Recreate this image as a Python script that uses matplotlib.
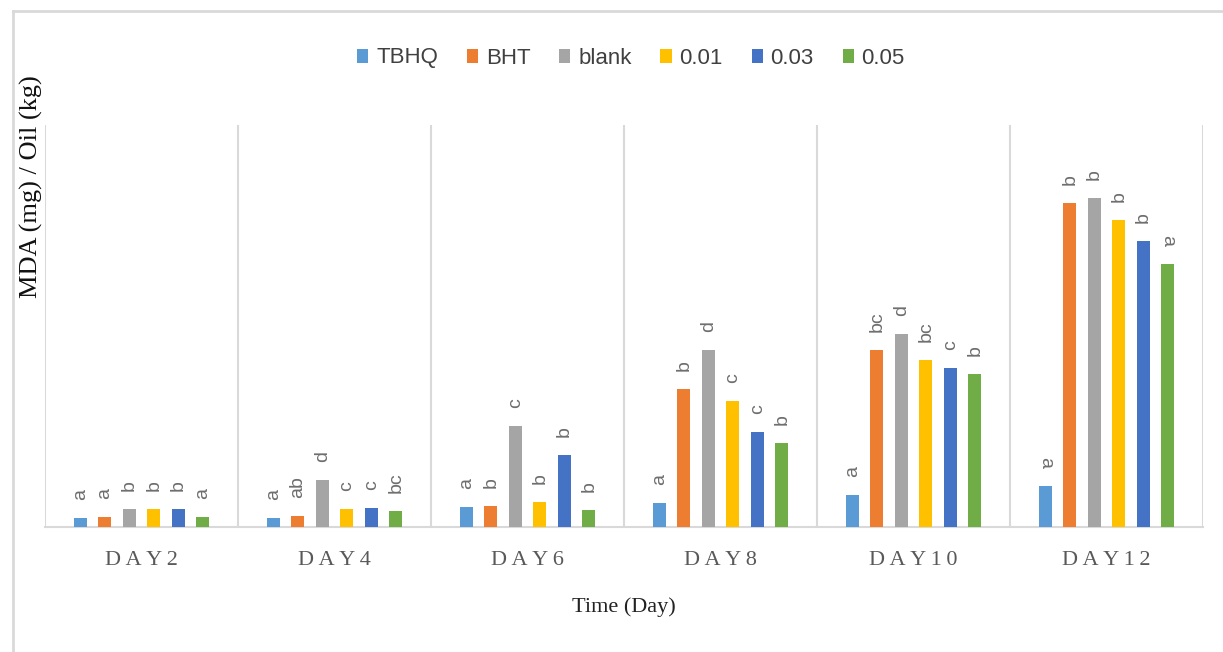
import matplotlib
matplotlib.use("Agg")
import matplotlib.pyplot as plt
from matplotlib.patches import Patch
from matplotlib.lines import Line2D
import numpy as np

days = ["DAY2", "DAY4", "DAY6", "DAY8", "DAY10", "DAY12"]
series = ["TBHQ", "BHT", "blank", "0.01", "0.03", "0.05"]
tbhq  = [0.47, 0.47, 1.02, 1.20, 1.60, 2.05]
bht   = [0.50, 0.55, 1.05, 6.90, 8.85, 16.20]
blank = [0.90, 2.35, 5.05, 8.85, 9.65, 16.45]
c001  = [0.90, 0.92, 1.27, 6.30, 8.35, 15.35]
c003  = [0.90, 0.95, 3.60, 4.75, 7.95, 14.30]
c005  = [0.50, 0.80, 0.85, 4.20, 7.65, 13.15]
values = [tbhq, bht, blank, c001, c003, c005]
letters = [
    ["a", "a", "a", "a", "a", "a"],
    ["a", "ab", "b", "b", "bc", "b"],
    ["b", "d", "c", "d", "d", "b"],
    ["b", "c", "b", "c", "bc", "b"],
    ["b", "c", "b", "c", "c", "b"],
    ["a", "bc", "b", "b", "b", "a"],
]
colors = ["#5B9BD5", "#ED7D31", "#A5A5A5", "#FFC000", "#4472C4", "#70AD47"]

W, H = 1223, 652
fig = plt.figure(figsize=(W / 100, H / 100), dpi=100)
ax = fig.add_axes([45 / W, 1 - 527 / H, (1203 - 45) / W, (527 - 125) / H])

sans = ["Liberation Sans Narrow", "Liberation Sans", "DejaVu Sans"]
serif = ["Liberation Serif", "DejaVu Serif"]

x = np.arange(len(days))
step = 0.127
bw = 0.066
for i, (name, vals, col) in enumerate(zip(series, values, colors)):
    pos = x + (i - 2.5) * step
    ax.bar(pos, vals, width=bw, color=col, label=name, zorder=3)
    for j, (p, v) in enumerate(zip(pos, vals)):
        rot = 90
        if j == 5 and name in ("TBHQ", "0.05"):
            rot = 270
        ax.annotate(letters[i][j], (p, v), xytext=(0, 13), textcoords="offset points",
                    rotation=rot, ha="center", va="bottom", fontsize=14,
                    color="#6E6E6E", family=sans)

ax.set_xlim(-0.5, 5.5)
ax.set_ylim(0, 20.1)
ax.set_yticks([])
ax.set_xticks(x)
ax.set_xticklabels(["\u2009".join(d) for d in days], family=serif, fontsize=16, color="#595959")
ax.tick_params(axis="x", length=0, pad=17)
for b in np.arange(-0.5, 6.0, 1.0):
    ax.axvline(b, color="#D9D9D9", lw=1.5, zorder=1)
for s in ["top", "right", "left"]:
    ax.spines[s].set_visible(False)
ax.spines["bottom"].set_color("#D9D9D9")
ax.spines["bottom"].set_linewidth(1.5)

fig.text(624 / W, 1 - 607 / H, "Time (Day)", ha="center", va="center",
         family=serif, fontsize=16, color="#222222")
fig.text(31 / W, 1 - 187 / H, "MDA (mg) / Oil (kg)", ha="center", va="center", rotation=90,
         family=serif, fontsize=19, color="#111111")

handles = [Patch(facecolor=c, edgecolor="none") for c in colors]
fig.legend(handles, series, loc="center", bbox_to_anchor=(631 / W, 1 - 58 / H), ncol=6,
           frameon=False, handlelength=0.5, handleheight=0.6, handletextpad=0.35,
           columnspacing=1.3, prop={"family": sans, "size": 16},
           labelcolor="#404040")

# outer frame
fig.add_artist(Line2D([13 / W, 13 / W], [0, 1 - 11 / H], transform=fig.transFigure, color="#D9D9D9", lw=2))
fig.add_artist(Line2D([13 / W, 1], [1 - 11 / H, 1 - 11 / H], transform=fig.transFigure, color="#D9D9D9", lw=2))

fig.savefig("out.png", dpi=100)
